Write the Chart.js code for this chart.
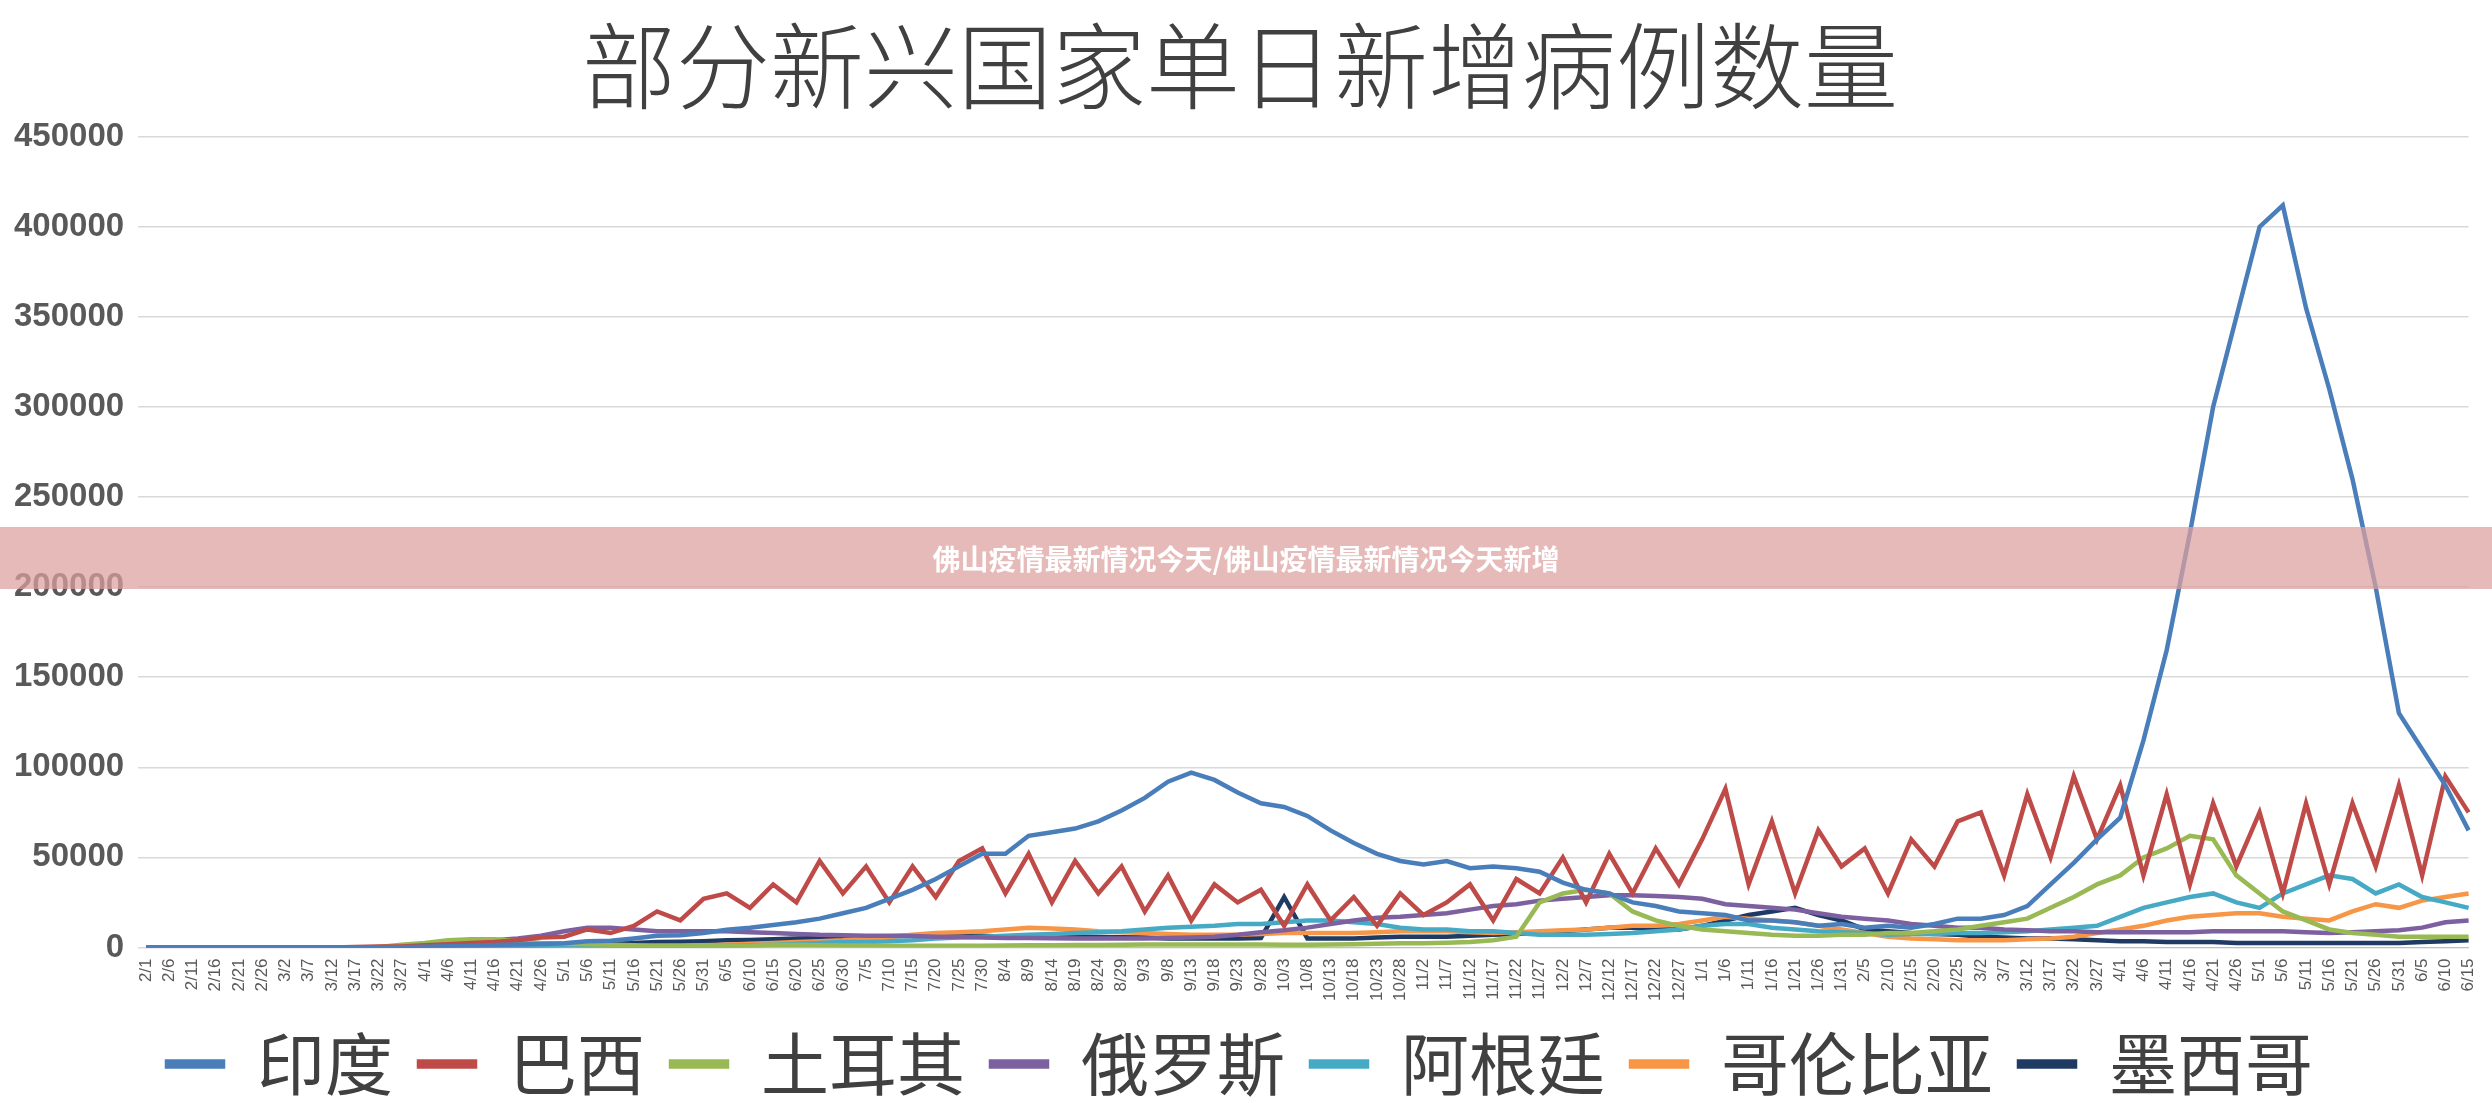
<!DOCTYPE html>
<html>
<head>
<meta charset="utf-8">
<script src="https://cdn.jsdelivr.net/npm/chart.js@4/dist/chart.umd.min.js"></script>
<style>
  html, body { margin: 0; padding: 0; background: #fff; }
  #wrap { position: relative; width: 2492px; height: 1118px; }
  #band {
    position: absolute; left: 0; top: 527px; width: 2492px; height: 62px;
    background: rgba(222, 160, 160, 0.72); color: #fff;
    font: bold 28px "Noto Sans CJK SC", sans-serif;
    display: flex; align-items: center; justify-content: center;
  }
</style>
</head>
<body>
<div id="wrap">
  <canvas id="myChart" width="2492" height="1118"></canvas>
  <div id="band">佛山疫情最新情况今天/佛山疫情最新情况今天新增</div>
</div>
<script>
// date ticks, every 5 days from 2020-02-01 to 2021-06-15
const labels = [
  "2/1","2/6","2/11","2/16","2/21","2/26",
  "3/2","3/7","3/12","3/17","3/22","3/27",
  "4/1","4/6","4/11","4/16","4/21","4/26",
  "5/1","5/6","5/11","5/16","5/21","5/26","5/31",
  "6/5","6/10","6/15","6/20","6/25","6/30",
  "7/5","7/10","7/15","7/20","7/25","7/30",
  "8/4","8/9","8/14","8/19","8/24","8/29",
  "9/3","9/8","9/13","9/18","9/23","9/28",
  "10/3","10/8","10/13","10/18","10/23","10/28",
  "11/2","11/7","11/12","11/17","11/22","11/27",
  "12/2","12/7","12/12","12/17","12/22","12/27",
  "1/1","1/6","1/11","1/16","1/21","1/26","1/31",
  "2/5","2/10","2/15","2/20","2/25",
  "3/2","3/7","3/12","3/17","3/22","3/27",
  "4/1","4/6","4/11","4/16","4/21","4/26",
  "5/1","5/6","5/11","5/16","5/21","5/26","5/31",
  "6/5","6/10","6/15"
];

const india = [0,0,0,0,0,0, 0,0,0,0,50,150,
  400,700,1000,1300,1600,1900,
  2300,3500,3700,5000,6500,6800,8000,
  9800,11000,12500,14000,16000,19000,
  22000,27000,32000,38000,45000,52000,
  52000,62000,64000,66000,70000,76000,
  83000,92000,97000,93000,86000,80000,
  78000,73000,65000,58000,52000,48000,
  46000,48000,44000,45000,44000,42000,
  36000,32000,30000,25000,23000,20000,
  19000,18000,15000,15000,14000,12000,13000,
  11000,12000,11000,13000,16000,
  16000,18000,23000,35000,47000,60000,
  72000,115000,165000,230000,300000,350000,
  400000,412000,355000,310000,260000,200000,130000,
  110000,90000,65000];

const brazil = [0,0,0,0,0,0, 0,0,0,200,500,500,
  1200,1800,2500,3000,4000,5500,
  6000,10000,8000,12000,20000,15000,27000,
  30000,22000,35000,25000,48000,30000,
  45000,25000,45000,28000,48000,55000,
  30000,52000,25000,48000,30000,45000,
  20000,40000,15000,35000,25000,32000,
  12000,35000,15000,28000,12000,30000,
  18000,25000,35000,15000,38000,30000,
  50000,25000,52000,30000,55000,35000,
  60000,88000,35000,70000,30000,65000,45000,
  55000,30000,60000,45000,70000,
  75000,40000,85000,50000,95000,60000,
  90000,40000,85000,35000,80000,45000,
  75000,30000,80000,35000,80000,45000,90000,
  40000,95000,75000];

const turkey = [0,0,0,0,0,0, 0,0,0,0,300,1500,
  2500,4000,4500,4500,3500,2500,
  2000,1800,1500,1200,1000,900,900,
  900,1000,1500,1300,1200,1100,
  1100,1000,1000,950,950,1000,
  1100,1200,1200,1300,1400,1500,
  1600,1700,1700,1600,1600,1600,
  1500,1500,1600,1800,2000,2300,
  2400,2600,3000,4000,6000,25000,
  30000,32000,30000,20000,15000,12000,
  10000,9000,8000,7000,6500,6500,7000,
  7000,8000,8000,9000,10000,
  12000,14000,16000,22000,28000,35000,
  40000,50000,55000,62000,60000,40000,
  30000,20000,15000,10000,8000,7000,6000,
  6000,6000,6000];

const russia = [0,0,0,0,0,0, 0,0,0,0,50,200,
  500,1000,2000,4000,5000,6500,
  9000,11000,11000,10000,9000,9000,9000,
  9000,8500,8000,7500,7000,6800,
  6500,6500,6300,6000,5800,5500,
  5300,5200,5100,5000,5000,5000,
  5000,5200,5500,6000,7000,8500,
  9500,11000,13000,15000,16500,17000,
  18000,19000,21000,23000,24000,26000,
  27000,28000,29000,29000,28500,28000,
  27000,24000,23000,22000,21000,19000,17000,
  16000,15000,13000,12000,11000,
  11000,10000,9500,9000,9000,8500,
  8500,8500,8500,8500,9000,9000,
  9000,9000,8500,8000,8500,9000,9500,
  11000,14000,15000];

const argentina = [0,0,0,0,0,0, 0,0,0,0,20,50,
  100,100,100,100,150,150,
  150,200,300,400,500,700,700,
  900,1200,1500,2000,2500,3000,
  3000,3500,4000,5000,5500,6000,
  6500,7000,7500,8000,8500,9000,
  10000,11000,11500,12000,13000,13000,
  14000,15000,15000,14000,13000,11000,
  10000,10000,9000,9000,8000,7000,
  7000,7000,7500,8000,9000,10000,
  12000,13000,13000,11000,10000,9000,8500,
  8000,7000,7500,7500,8000,
  8000,8500,9000,10000,11000,12000,
  17000,22000,25000,28000,30000,25000,
  22000,30000,35000,40000,38000,30000,35000,
  28000,25000,22000];

const colombia = [0,0,0,0,0,0, 0,0,0,0,30,60,
  100,100,150,200,250,300,
  300,400,500,700,900,1000,1200,
  1500,2000,2500,3000,3500,4000,
  5000,6000,7000,8000,8500,9000,
  10000,11000,10500,10000,9000,8500,
  8000,7500,7000,7000,7000,7500,
  8000,8000,8000,8000,8500,9000,
  9000,9000,8500,8000,8500,9000,
  9500,10000,11000,12000,12000,13000,
  15000,17000,16000,15000,14000,12000,10000,
  8000,6000,5000,4500,4000,
  4000,4000,4500,5000,6000,8000,
  10000,12000,15000,17000,18000,19000,
  19000,17000,16000,15000,20000,24000,22000,
  26000,28000,30000];

const mexico = [0,0,0,0,0,0, 0,0,0,0,20,50,
  100,200,300,500,800,1100,
  1500,1800,2000,2500,3000,3200,3500,
  4000,4200,4500,5000,5200,5500,
  6000,6200,6500,6800,6500,6500,
  6000,6000,6200,6000,5800,5600,
  5500,5000,5000,5000,5000,5200,
  28000,5000,5000,5000,5500,6000,
  6000,6000,6500,7000,7500,8000,
  9000,10000,11000,11000,10000,10000,
  12000,15000,18000,20000,22000,18000,15000,
  10000,9000,8000,7500,7000,
  6000,5500,5000,5000,4500,4000,
  3500,3500,3000,3000,3000,2500,
  2500,2500,2500,2500,2500,2500,2500,
  3000,3500,4000];

const seriesNames = ["印度","巴西","土耳其","俄罗斯","阿根廷","哥伦比亚","墨西哥"];
const seriesData = [india, brazil, turkey, russia, argentina, colombia, mexico];
const seriesColors = ["#4a7ebb","#be4b48","#98b954","#7d60a0","#46aac5","#f79646","#1f3a63"];

const myChartRef = document.getElementById("myChart").getContext("2d");
new Chart(myChartRef, {
  type: "line",
  data: {
    labels: labels,
    datasets: seriesNames.map((name, i) => ({
      label: name,
      data: seriesData[i],
      borderColor: seriesColors[i],
      backgroundColor: seriesColors[i],
      borderWidth: 4.5,
      pointRadius: 0,
      tension: 0,
      order: i
    }))
  },
  options: {
    responsive: false,
    animation: false,
    layout: { padding: { left: 0, right: 12, top: 10, bottom: 10 } },
    plugins: {
      title: {
        display: true,
        text: "部分新兴国家单日新增病例数量",
        color: "#404040",
        font: { family: "'Noto Sans CJK SC'", size: 94, weight: 300 },
        padding: { top: 0, bottom: 14 }
      },
      legend: {
        position: "bottom",
        labels: {
          color: "#404040",
          font: { family: "'Noto Sans CJK SC'", size: 68 },
          boxWidth: 56,
          boxHeight: 5,
          padding: 26
        }
      },
      tooltip: { enabled: false }
    },
    scales: {
      x: {
        grid: { display: false },
        border: { color: "#bfbfbf" },
        ticks: {
          autoSkip: false, maxRotation: 90, minRotation: 90,
          color: "#595959",
          font: { family: "'Liberation Sans'", size: 17 }
        }
      },
      y: {
        min: 0, max: 450000,
        grid: { color: "#d9d9d9", lineWidth: 1.5 },
        border: { display: false },
        ticks: {
          stepSize: 50000,
          color: "#595959",
          padding: 14,
          callback: v => String(v),
          font: { family: "'Liberation Sans'", size: 33, weight: "bold" }
        }
      }
    }
  }
});
</script>
</body>
</html>
